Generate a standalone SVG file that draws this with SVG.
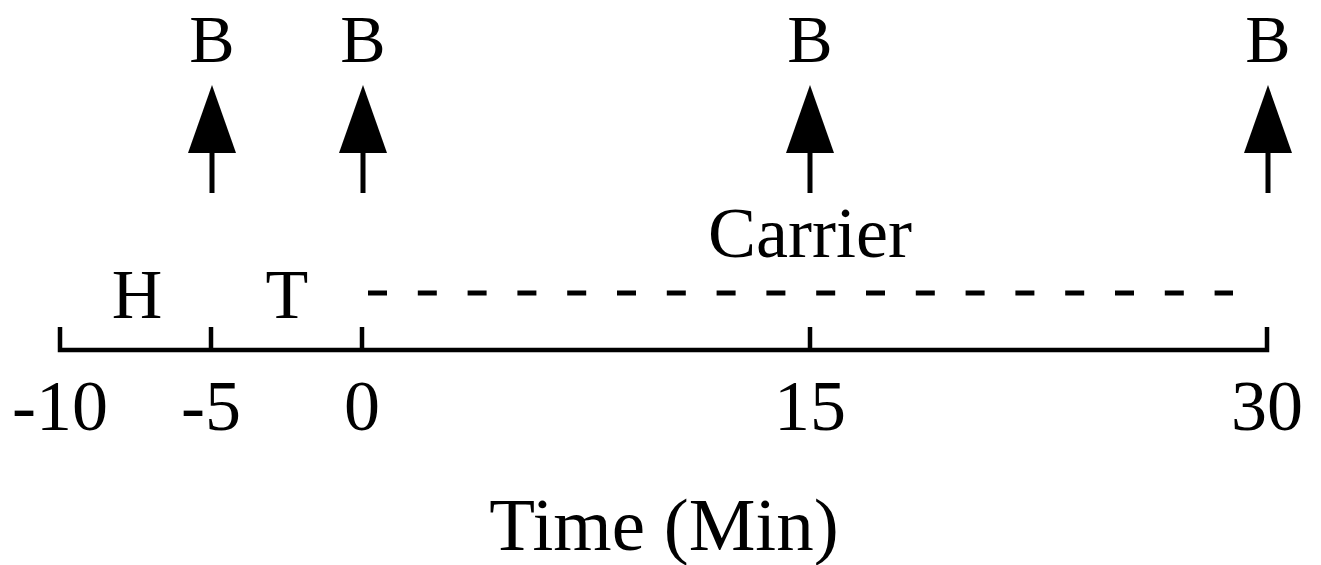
<svg xmlns="http://www.w3.org/2000/svg" width="1321" height="565" viewBox="0 0 1321 565">
  <style>
    text { font-family: "Liberation Serif", "Times New Roman", serif; fill: #000; text-anchor: middle; }
    .b { font-size: 68px; }
    .phase { font-size: 70px; }
    .num { font-size: 72px; }
    .carrier { font-size: 72px; }
    .axis-title { font-size: 75px; }
    .line { stroke: #000; stroke-width: 4.5; fill: none; }
    .dash { stroke: #000; stroke-width: 5; fill: none; stroke-dasharray: 19 30.8; }
    .shaft { stroke: #000; stroke-width: 5; }
    .head { fill: #000; }
  </style>
  <defs>
    <!-- upward arrow marking a B time point; tip at origin -->
    <g id="up-arrow">
      <polygon class="head" points="0,0 -24,68 24,68"/>
      <line class="shaft" x1="0" y1="66" x2="0" y2="108"/>
    </g>
  </defs>

  <rect width="1321" height="565" fill="#fff"/>

  <!-- timeline axis with tick marks -->
  <g id="connectors">
    <path class="line" d="M60,327 V350 H1267 V327" stroke-linejoin="miter"/>
    <line class="line" x1="211" y1="327" x2="211" y2="350"/>
    <line class="line" x1="362" y1="327" x2="362" y2="350"/>
    <line class="line" x1="810" y1="327" x2="810" y2="350"/>
    <!-- carrier period (dashed) -->
    <line class="dash" x1="368" y1="293" x2="1233" y2="293"/>
  </g>

  <!-- B sampling points -->
  <g id="b-minus5">
    <text class="b" x="212" y="62">B</text>
    <use href="#up-arrow" x="212" y="85"/>
  </g>
  <g id="b-0">
    <text class="b" x="363" y="62">B</text>
    <use href="#up-arrow" x="363" y="85"/>
  </g>
  <g id="b-15">
    <text class="b" x="810" y="62">B</text>
    <use href="#up-arrow" x="810" y="85"/>
  </g>
  <g id="b-30">
    <text class="b" x="1268" y="62">B</text>
    <use href="#up-arrow" x="1268" y="85"/>
  </g>

  <!-- phase labels -->
  <g id="phase-h"><text class="phase" x="137" y="318">H</text></g>
  <g id="phase-t"><text class="phase" x="287" y="318">T</text></g>
  <g id="phase-carrier"><text class="carrier" x="810" y="257">Carrier</text></g>

  <!-- tick labels -->
  <g id="tick-labels">
    <text class="num" x="60" y="430">-10</text>
    <text class="num" x="211" y="430">-5</text>
    <text class="num" x="362" y="430">0</text>
    <text class="num" x="810" y="430">15</text>
    <text class="num" x="1267" y="430">30</text>
  </g>

  <g id="axis-title"><text class="axis-title" x="664" y="550">Time (Min)</text></g>
</svg>
